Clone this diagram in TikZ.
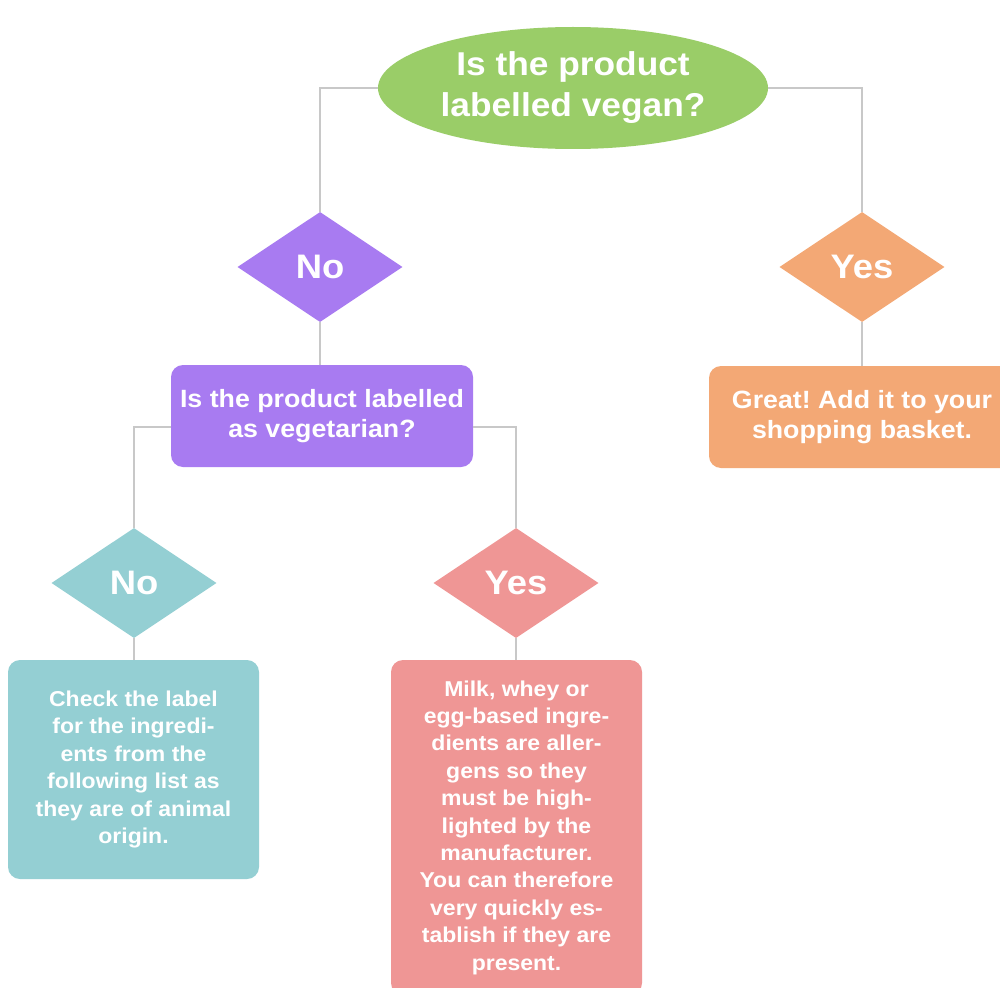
\documentclass[tikz,border=0pt]{standalone}
\usepackage{fontspec}
\setmainfont{Liberation Sans}[FakeStretch=1.07]
\usetikzlibrary{shapes.geometric}
\definecolor{cgreen}{HTML}{9ACD68}
\definecolor{cpurple}{HTML}{A87BF1}
\definecolor{corange}{HTML}{F3A875}
\definecolor{cteal}{HTML}{94CFD3}
\definecolor{cpink}{HTML}{EF9695}
\definecolor{cline}{HTML}{C8C8C8}
\frenchspacing
\begin{document}
\begin{tikzpicture}[x=1pt,y=-1pt,
  conn/.style={draw=cline,line width=2.5pt},
  dia/.style={diamond,fill=#1,minimum width=165pt,minimum height=110pt,inner sep=0pt,text=white,font=\bfseries\fontsize{34}{40}\selectfont},
  boxx/.style={rectangle,rounded corners=12pt,fill=#1,text=white,align=center,inner sep=0pt},
  smalltxt/.style={font=\bfseries\fontsize{21.5}{27.4}\selectfont},
  midtxt/.style={font=\bfseries\fontsize{25}{30.5}\selectfont}
]
\useasboundingbox[fill=white] (0,0) rectangle (1000,987);

\node[ellipse,fill=cgreen,minimum width=390pt,minimum height=122pt,inner sep=0pt,text=white,align=center,font=\bfseries\fontsize{33}{41}\selectfont] (q1) at (573,88) {\raisebox{4pt}{\begin{tabular}{@{}c@{}}Is the product\\labelled vegan?\end{tabular}}};

\node[dia=cpurple] (d1) at (320,267) {No};
\node[dia=corange] (d2) at (862,267) {Yes};

\node[boxx=cpurple,minimum width=302pt,minimum height=102pt,midtxt] (b1) at (322,416) {Is the product labelled\\as vegetarian?};
\node[boxx=corange,minimum width=306pt,minimum height=102pt,midtxt] (b2) at (862,417) {Great! Add it to your\\shopping basket.};

\node[dia=cteal] (d3) at (134,583) {No};
\node[dia=cpink] (d4) at (516,583) {Yes};

\node[boxx=cteal,minimum width=251pt,minimum height=219pt,smalltxt] (b3) at (133.5,769.5) {Check the label\\for the ingredi-\\ents from the\\following list as\\they are of animal\\origin.};
\node[boxx=cpink,minimum width=251pt,minimum height=335pt,smalltxt] (b4) at (516.5,827.5) {Milk, whey or\\egg-based ingre-\\dients are aller-\\gens so they\\must be high-\\lighted by the\\manufacturer.\\You can therefore\\very quickly es-\\tablish if they are\\present.};

\draw[conn] (q1.west) -| (d1.north);
\draw[conn] (q1.east) -| (d2.north);
\draw[conn] (d1.south) -- (d1.south |- b1.north);
\draw[conn] (d2.south) -- (d2.south |- b2.north);
\draw[conn] ([yshift=-11pt]b1.west) -| (d3.north);
\draw[conn] ([yshift=-11pt]b1.east) -| (d4.north);
\draw[conn] (d3.south) -- (d3.south |- b3.north);
\draw[conn] (d4.south) -- (d4.south |- b4.north);
\end{tikzpicture}
\end{document}
